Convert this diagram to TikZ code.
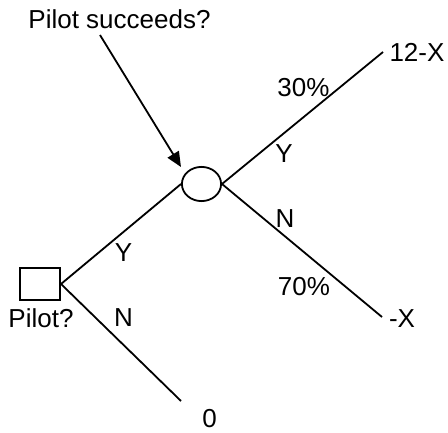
\documentclass[tikz,border=0pt]{standalone}
\usepackage{fontspec}
\setmainfont{Liberation Sans}
\usetikzlibrary{arrows.meta,shapes.geometric}
\begin{document}
\begin{tikzpicture}[x=1pt,y=-1pt,
  lbl/.style={inner sep=0pt,anchor=base,font=\fontsize{26}{31}\selectfont},
  branch/.style={line width=1.8pt},
  decision/.style={draw,line width=1.8pt,rectangle,minimum width=40.2pt,minimum height=32.2pt,inner sep=0pt},
  chance/.style={draw,line width=1.8pt,ellipse,minimum width=39.2pt,minimum height=34.2pt,inner sep=0pt}]
\useasboundingbox (0,0) rectangle (448,433);
\node[decision] (d) at (40,284) {};
\node[chance] (c) at (201.5,184) {};
\coordinate (e1) at (383,52);
\coordinate (e2) at (382,317);
\coordinate (e3) at (181,401);
\coordinate (a0) at (100,35);
\coordinate (a1) at (181,167);
\draw[branch] (d.east) -- (c.west);
\draw[branch] (d.east) -- (e3);
\draw[branch] (c.east) -- (e1);
\draw[branch] (c.east) -- (e2);
\draw[branch,-{Triangle[length=15pt,width=13pt]}] (a0) -- (a1);
\node[lbl] (t0) at (119.5,29) {Pilot succeeds?};
\node[lbl] (t1) at (417,62) {12-X};
\node[lbl] (t2) at (402,328) {-X};
\node[lbl] (t3) at (285,228) {N};
\node[lbl] (t4) at (304,296) {70\%};
\node[lbl] (t5) at (284,163) {Y};
\node[lbl] (t6) at (303.5,97) {30\%};
\node[lbl] (t7) at (123.5,262) {Y};
\node[lbl] (t8) at (123.5,327) {N};
\node[lbl] (t9) at (41,328) {Pilot?};
\node[lbl] (t10) at (209.5,428) {0};
\end{tikzpicture}
\end{document}
